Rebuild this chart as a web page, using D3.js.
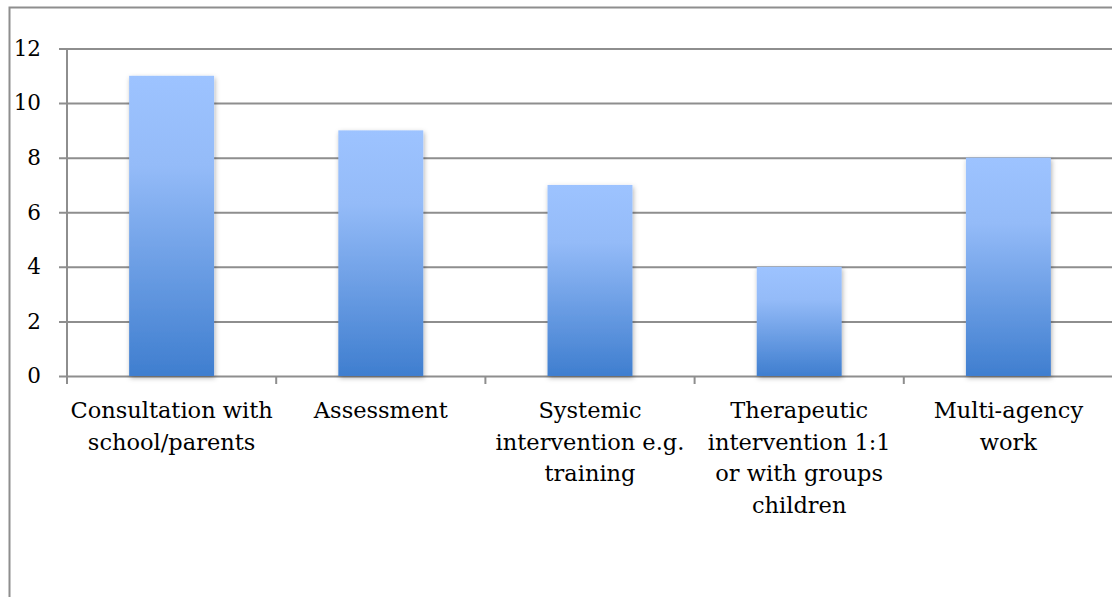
<!DOCTYPE html>
<html>
<head>
<meta charset="utf-8">
<script src="https://cdn.jsdelivr.net/npm/d3@7"></script>
<style>
  html, body { margin: 0; padding: 0; background: #fff; }
  svg { display: block; }
  text { font-family: "DejaVu Serif", "Liberation Serif", serif; fill: #000; }
</style>
</head>
<body>
<svg id="chart" width="1112" height="597"></svg>
<script>
// Activities and the number of responses for each
const categories = [
  ["Consultation with", "school/parents"],
  ["Assessment"],
  ["Systemic", "intervention e.g.", "training"],
  ["Therapeutic", "intervention 1:1", "or with groups", "children"],
  ["Multi-agency", "work"]
];
const values = [11, 9, 7, 4, 8];
const yTicks = [0, 2, 4, 6, 8, 10, 12];

const FONT = "DejaVu Serif, Liberation Serif, serif";
const svg = d3.select("#chart");
const W = 1112, H = 597;
const m = { left: 67, right: -1, top: 48.5, bottom: 221 };
const plotW = W - m.left - m.right;
const plotH = H - m.top - m.bottom;

// chart frame
svg.append("rect")
  .attr("x", 9.5).attr("y", 7.5)
  .attr("width", W + 20).attr("height", H + 20)
  .attr("fill", "#fff").attr("stroke", "#8e8e8e").attr("stroke-width", 2);

const x = d3.scaleBand().domain(d3.range(values.length)).range([0, plotW]).paddingInner(0.594).paddingOuter(0.297);
const xCat = d3.scaleBand().domain(d3.range(values.length)).range([0, plotW]);
const y = d3.scaleLinear().domain([0, 12]).range([plotH, 0]);

const defs = svg.append("defs");
const grad = defs.append("linearGradient").attr("id", "barGrad")
  .attr("x1", 0).attr("y1", 0).attr("x2", 0).attr("y2", 1);
grad.append("stop").attr("offset", "0%").attr("stop-color", "#9dc3ff");
grad.append("stop").attr("offset", "30%").attr("stop-color", "#94bbf8");
grad.append("stop").attr("offset", "100%").attr("stop-color", "#3f7ecf");

const shadow = defs.append("filter").attr("id", "shadow")
  .attr("x", "-20%").attr("y", "-10%").attr("width", "140%").attr("height", "120%");
shadow.append("feDropShadow").attr("dx", 1).attr("dy", 2).attr("stdDeviation", 2.5)
  .attr("flood-color", "#000").attr("flood-opacity", 0.3);

const g = svg.append("g").attr("transform", `translate(${m.left},${m.top})`);

// horizontal gridlines with tick marks to the left
const yAxis = d3.axisLeft(y).tickValues(yTicks).tickSize(-plotW).tickPadding(26).tickFormat(d3.format("d"));
const ya = g.append("g").call(yAxis)
  .attr("font-family", FONT).attr("font-size", 21.5);
ya.select(".domain").remove();
ya.selectAll(".tick line").attr("x1", -8).attr("stroke", "#8e8e8e").attr("stroke-width", 2);
ya.selectAll(".tick text").attr("fill", "#000");

// vertical axis line
g.append("line").attr("x1", 0).attr("x2", 0).attr("y1", 0).attr("y2", plotH + 8)
  .attr("stroke", "#8e8e8e").attr("stroke-width", 2);

// category boundary ticks below the baseline
g.selectAll(".xtick").data(d3.range(values.length + 1)).join("line")
  .attr("class", "xtick")
  .attr("x1", i => i < values.length ? xCat(i) : plotW)
  .attr("x2", i => i < values.length ? xCat(i) : plotW)
  .attr("y1", plotH).attr("y2", plotH + 8)
  .attr("stroke", "#8e8e8e").attr("stroke-width", 2);

// bars
g.selectAll(".bar").data(values).join("rect")
  .attr("class", "bar")
  .attr("x", (d, i) => x(i))
  .attr("y", d => y(d))
  .attr("width", x.bandwidth())
  .attr("height", d => y(0) - y(d))
  .attr("fill", "url(#barGrad)")
  .attr("filter", "url(#shadow)");

// category labels
const lab = g.selectAll(".cat").data(categories).join("text")
  .attr("class", "cat")
  .attr("text-anchor", "middle")
  .attr("font-family", FONT)
  .attr("font-size", 22.5)
  .attr("transform", (d, i) => `translate(${xCat(i) + xCat.bandwidth() / 2},${plotH + 42})`);
lab.selectAll("tspan").data(d => d).join("tspan")
  .attr("x", 0).attr("dy", (d, j) => j === 0 ? 0 : 31.5)
  .text(d => d);
</script>
</body>
</html>
